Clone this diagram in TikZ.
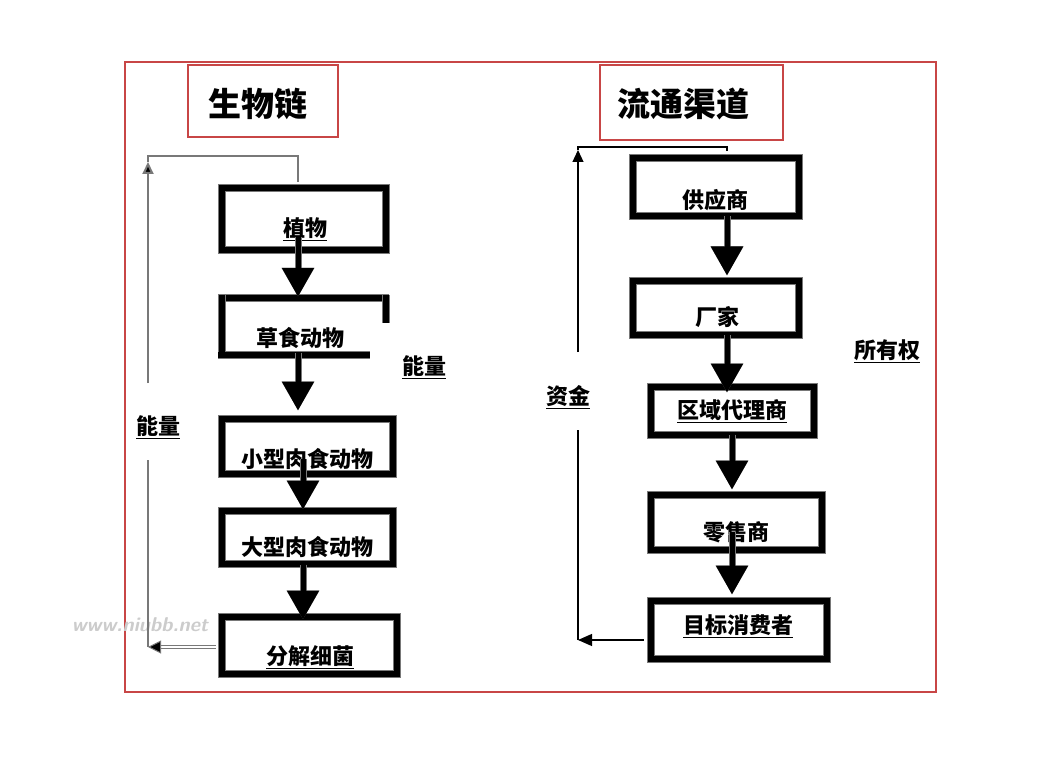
\documentclass[tikz,border=0pt]{standalone}
\usepackage{fontspec}
\newfontfamily\cjk{Noto Sans CJK SC}
\usetikzlibrary{arrows.meta,calc}
\definecolor{frame}{RGB}{200,70,70}
\definecolor{edge}{RGB}{120,120,120}
\tikzset{
  chainbox/.style={draw=black, line width=6pt, preaction={draw=edge, line width=8pt}, inner sep=0pt, fill=none},
  boxtext/.style={font=\cjk\bfseries\fontsize{22pt}{22pt}\selectfont, inner sep=0pt},
  titletext/.style={font=\cjk\bfseries\fontsize{33pt}{33pt}\selectfont, inner sep=0pt},
  sidelabel/.style={font=\cjk\bfseries\fontsize{22pt}{22pt}\selectfont, inner sep=0pt},
  titlebox/.style={draw=frame, line width=1.5pt},
  bigarrow/.style={draw=black, line width=5pt, preaction={draw=edge, line width=7pt},
     -{Triangle[width=31pt,length=29pt]}},
  grayline/.style={draw=edge, line width=2pt},
  blackline/.style={draw=black, line width=1.2pt},
}
\begin{document}
\begin{tikzpicture}[x=1pt,y=-1pt]
\useasboundingbox (0,0) rectangle (1037,778);
\fill[white] (0,0) rectangle (1037,778);
% outer frame
\draw[frame, line width=1.5pt] (125,62) rectangle (936,692);
% titles
\draw[titlebox] (188,65) rectangle (338,137);
\node[titletext] (title1) at (258,104) {生物链};
\draw[titlebox] (600,65) rectangle (783,140);
\node[titletext] (title2) at (683,104) {流通渠道};

% watermark
\node[font=\sffamily\bfseries\itshape\fontsize{20pt}{20pt}\selectfont, text=gray!40] (wm) at (140,625) {www.niubb.net};

% left chain boxes
\node[chainbox, minimum width=164pt, minimum height=62pt] (b1) at (303.5,219.5) {};
\node[boxtext] (t1) at (305,229) {\underline{植物}};
\node[inner sep=0pt, minimum width=164pt, minimum height=56pt] (b2) at (303.5,326.5) {};
\draw[edge, line width=8pt] (218,298.5) -- (389,298.5);
\draw[black, line width=6pt] (218,298.5) -- (389,298.5);
\draw[edge, line width=8pt] (385.5,295) -- (385.5,323) (221.5,295) -- (221.5,358) (218,354.5) -- (370,354.5);
\draw[black, line width=6pt] (385.5,295) -- (385.5,323) (221.5,295) -- (221.5,358) (218,354.5) -- (370,354.5);
\node[boxtext] (t2) at (300,338) {草食动物};
\node[chainbox, minimum width=171pt, minimum height=55pt] (b3) at (307,446) {};
\node[boxtext] (t3) at (307,459) {小型肉食动物};
\node[chainbox, minimum width=171pt, minimum height=53pt] (b4) at (307,537) {};
\node[boxtext] (t4) at (307,547) {大型肉食动物};
\node[chainbox, minimum width=175pt, minimum height=57pt] (b5) at (309,645) {};
\node[boxtext] (t5) at (310,657) {\underline{分解细菌}};

% left arrows
\draw[bigarrow] ($(t1.center)+(-7,8)$) -- ($(b2.north)+(-5.5,-1.5)$);
\draw[bigarrow] ($(b2.south)+(-5.5,-2)$) -- ($(b3.north)+(-9,-5)$);
\draw[bigarrow] ($(t3.center)+(-4,0)$) -- ($(b4.north)+(-4,2)$);
\draw[bigarrow] ($(b4.south)+(-4,-2)$) -- ($(b5.north)+(-6,6)$);

% left feedback
\coordinate (L1) at (148,647);
\coordinate (L2) at (148,460);
\coordinate (L3) at (148,383);
\coordinate (L4) at (148,162);
\coordinate (L5) at (148,156);
\coordinate (L6) at (298,156);
\draw[draw=edge, line width=1pt, double=white, double distance=2.5pt, -{Triangle[width=13pt,length=13pt, fill=black]}] ($(b5.west)+(-3,2)$) -- (L1);
\draw[grayline] (L1) -- (L2);
\draw[grayline, -{Triangle[width=11pt,length=12pt, fill=black]}] (L3) -- (L4);
\draw[edge, line width=1.3pt] (L4) -- (L5) -- (L6) -- ($(b1.north)+(-5.5,-3)$);
\node[sidelabel] (e1) at (158,427) {\underline{能量}};
\node[sidelabel] (e2) at (424,367) {\underline{能量}};

% right chain boxes
\node[chainbox, minimum width=166pt, minimum height=58pt] (c1) at (715.5,187.5) {};
\node[boxtext] (s1) at (715,200) {供应商};
\node[chainbox, minimum width=166pt, minimum height=54pt] (c2) at (715.5,308.5) {};
\node[boxtext] (s2) at (717,317) {厂家};
\node[chainbox, minimum width=163pt, minimum height=48pt] (c3) at (732,410.5) {};
\node[boxtext] (s3) at (732,411) {\underline{区域代理商}};
\node[chainbox, minimum width=171pt, minimum height=55pt] (c4) at (736,522) {};
\node[boxtext] (s4) at (736,532) {零售商};
\node[chainbox, minimum width=176pt, minimum height=58pt] (c5) at (738.5,629.5) {};
\node[boxtext] (s5) at (738,626) {\underline{目标消费者}};

% right arrows
\draw[bigarrow] ($(c1.south)+(11.5,-3)$) -- ($(c2.north)+(11.5,-3)$);
\draw[bigarrow] ($(c2.south)+(11.5,-3)$) -- ($(c3.north)+(-5,9)$);
\draw[bigarrow] ($(c3.south)+(0,-3)$) -- ($(c4.north)+(-4,-2)$);
\draw[bigarrow] ($(s4.center)+(-4,0)$) -- ($(c5.north)+(-6.5,-3)$);

% right feedback
\coordinate (R1) at (578,640);
\coordinate (R2) at (578,430);
\coordinate (R3) at (578,352);
\coordinate (R4) at (578,150);
\coordinate (R5) at (578,147);
\coordinate (R6) at (727,147);
\draw[blackline, -{Triangle[width=12pt,length=14pt]}] ($(c5.west)+(-4,10.5)$) -- (R1);
\draw[blackline] (R1) -- (R2);
\draw[blackline, -{Triangle[width=11pt,length=12pt]}] (R3) -- (R4);
\draw[blackline] (R4) -- (R5) -- (R6) -- ($(c1.north)+(11.5,-4)$);
\node[sidelabel] (m1) at (568,397) {\underline{资金}};
\node[sidelabel] (m2) at (887,351) {\underline{所有权}};
\end{tikzpicture}
\end{document}
